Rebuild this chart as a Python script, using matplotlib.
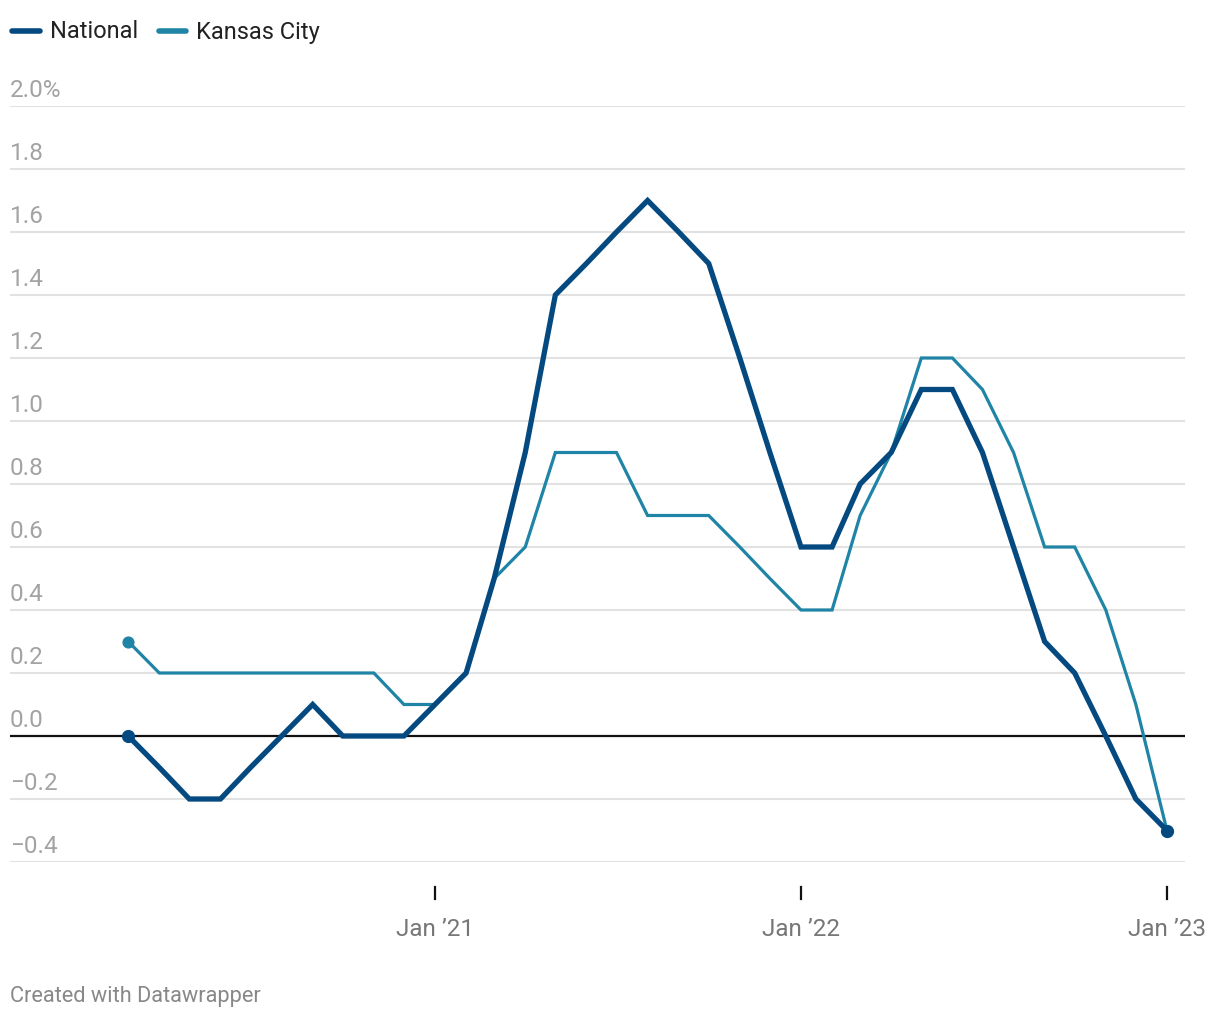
import matplotlib
matplotlib.use("Agg")
import matplotlib.pyplot as plt
import matplotlib.dates as mdates
import matplotlib.transforms as mtransforms
import pandas as pd

# ── Data ──────────────────────────────────────────────────────────────────────
months = pd.date_range("2020-03-01", "2023-01-01", freq="MS")
national = [0.0, -0.1, -0.2, -0.2, -0.1, 0.0, 0.1, 0.0, 0.0, 0.0,
            0.1, 0.2, 0.5, 0.9, 1.4, 1.5, 1.6, 1.7, 1.6, 1.5,
            1.2, 0.9, 0.6, 0.6, 0.8, 0.9, 1.1, 1.1, 0.9, 0.6,
            0.3, 0.2, 0.0, -0.2, -0.3]
kansas_city = [0.3, 0.2, 0.2, 0.2, 0.2, 0.2, 0.2, 0.2, 0.2, 0.1,
               0.1, 0.2, 0.5, 0.6, 0.9, 0.9, 0.9, 0.7, 0.7, 0.7,
               0.6, 0.5, 0.4, 0.4, 0.7, 0.9, 1.2, 1.2, 1.1, 0.9,
               0.6, 0.6, 0.4, 0.1, -0.3]
y_ticks = [-0.4, -0.2, 0.0, 0.2, 0.4, 0.6, 0.8, 1.0, 1.2, 1.4, 1.6, 1.8, 2.0]
x_ticks = pd.to_datetime(["2021-01-01", "2022-01-01", "2023-01-01"])
x_labels = ["Jan \u201921", "Jan \u201922", "Jan \u201923"]

NAT_COL = "#044a80"
KC_COL = "#1f84a6"
GRID = "#e2e2e2"
LBL = "#a3a3a3"

plt.rcParams["font.family"] = ["Roboto", "DejaVu Sans"]

W, H = 1220, 1020
fig = plt.figure(figsize=(W / 100, H / 100), dpi=100)
fig.patch.set_facecolor("white")

# plot area: px 10..1185 horizontally, 107..863 vertically
ax = fig.add_axes([10 / W, 1 - 863 / H, 1175 / W, (863 - 107) / H])
ax.set_facecolor("white")
for s in ax.spines.values():
    s.set_visible(False)

jan21 = pd.Timestamp("2021-01-01")
ax.set_xlim(jan21 - pd.Timedelta(days=423.9), jan21 + pd.Timedelta(days=748))
ax.set_ylim(-0.4, 2.0)
ax.set_xticks([])
ax.set_yticks([])

# gridlines + y labels sitting on top of them
lbl_tr = mtransforms.offset_copy(ax.get_yaxis_transform(), fig=fig, x=0, y=5, units="dots")
for v in y_ticks:
    if v == 0.0:
        ax.axhline(v, color="#111111", lw=1.6, zorder=2)
    else:
        ax.axhline(v, color=GRID, lw=1.5, zorder=1)
    txt = f"{v:.1f}".replace("-", "\u2212")
    if v == 2.0:
        txt += "%"
    ax.text(0, v, txt, transform=lbl_tr, ha="left", va="bottom",
            fontsize=17.5, color=LBL)

# lines
ax.plot(months, kansas_city, color=KC_COL, lw=2.3, zorder=3,
        solid_joinstyle="miter", clip_on=False)
ax.plot(months, national, color=NAT_COL, lw=3.8, zorder=4,
        solid_joinstyle="miter", clip_on=False)
ax.scatter([months[0], months[-1]], [kansas_city[0], kansas_city[-1]],
           s=60, color=KC_COL, zorder=5, clip_on=False)
ax.scatter([months[0], months[-1]], [national[0], national[-1]],
           s=72, color=NAT_COL, zorder=6, clip_on=False)

# x ticks below the plot area
for d, lab in zip(x_ticks, x_labels):
    xf = ax.transData.transform((mdates.date2num(d), 0))[0] / W
    fig.add_artist(plt.Line2D([xf, xf], [1 - 888 / H, 1 - 900 / H], color="#111111", lw=1.6))
    fig.text(xf, 1 - 930 / H, lab, ha="center", va="center", fontsize=17.5, color="#777777")

# legend
fig.add_artist(plt.Line2D([12 / W, 40 / W], [1 - 32 / H] * 2, color=NAT_COL, lw=4,
                          solid_capstyle="round"))
fig.text(50 / W, 1 - 32 / H, "National", ha="left", va="center", fontsize=17, color="#222222")
fig.add_artist(plt.Line2D([159 / W, 186 / W], [1 - 32 / H] * 2, color=KC_COL, lw=4,
                          solid_capstyle="round"))
fig.text(196 / W, 1 - 32 / H, "Kansas City", ha="left", va="center", fontsize=17, color="#222222")

# footer
fig.text(10 / W, 1 - 997 / H, "Created with Datawrapper", ha="left", va="center",
         fontsize=15.7, color="#888888")

fig.savefig("out.png", dpi=100, facecolor="white")
